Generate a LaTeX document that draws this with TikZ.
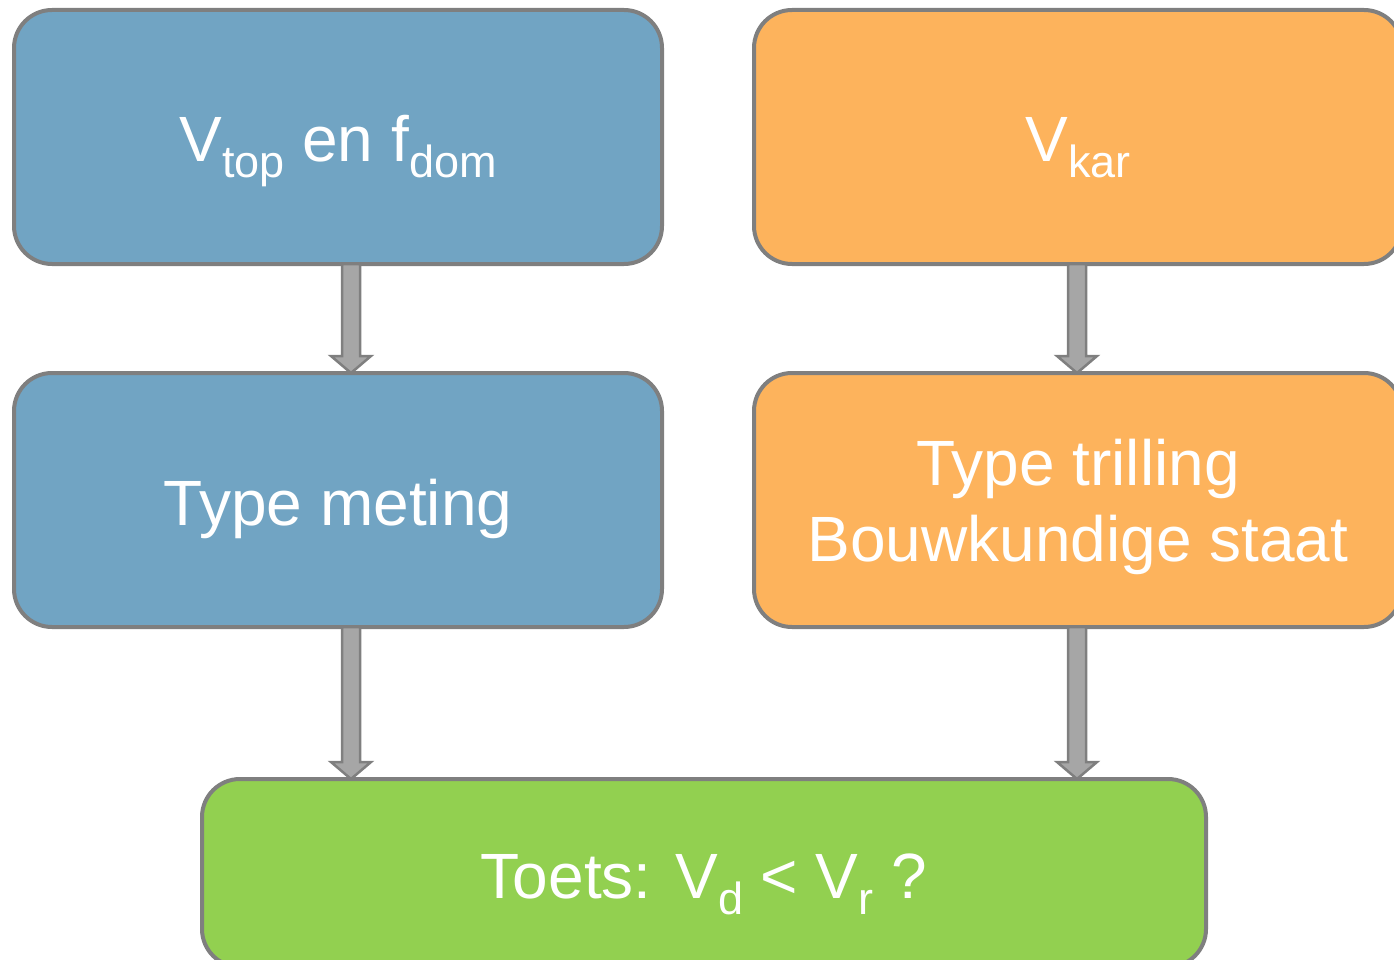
\documentclass[tikz,border=0pt]{standalone}
\usepackage{fontspec}
\setmainfont{Liberation Sans}
\usetikzlibrary{calc}
\definecolor{bblue}{RGB}{113,164,195}
\definecolor{borange}{RGB}{253,179,92}
\definecolor{bgreen}{RGB}{146,208,80}
\definecolor{bgray}{RGB}{127,127,127}
\definecolor{agray}{RGB}{166,166,166}
\newcommand\lo[1]{\raisebox{-16pt}{\fontsize{45}{45}\selectfont #1}}
\newcommand\dn[1]{\raisebox{-7pt}[\height][\depth]{#1}}
% #1: coordinate giving x, #2: from node, #3: to node
\newcommand\blockarr[3]{%
  \path let \p0=(#1), \p1=(#2.south), \p2=(#3.north) in
    [draw=bgray, fill=agray, line width=2.5pt, line join=miter]
    (\x0-9pt,\y1) -- (\x0-9pt,\y2+17pt) -- (\x0-20pt,\y2+17pt) -- (\x0,\y2)
    -- (\x0+20pt,\y2+17pt) -- (\x0+9pt,\y2+17pt) -- (\x0+9pt,\y1) -- cycle;}
\begin{document}
\begin{tikzpicture}[x=1pt,y=1pt,
  box/.style={draw=bgray, line width=4pt, rounded corners=38pt,
    minimum width=648pt, minimum height=254pt, inner sep=0pt, outer sep=0pt,
    text=white, font=\fontsize{64}{76}\selectfont, align=center},
  one/.style={text height=50pt, text depth=0pt}]
\useasboundingbox (0,0) rectangle (1394,-960);
\node[box, one, fill=bblue] (b1) at (338,-137) {V\lo{top} en f\lo{dom}};
\node[box, one, fill=borange] (o1) at (1078,-137) {V\lo{kar}};
\node[box, one, fill=bblue] (b2) at (338,-500) {Type meting};
\node[box, fill=borange] (o2) at (1078,-500) {\dn{Type trilling}\\\dn{Bouwkundige staat}};
\node[box, one, fill=bgreen, minimum width=1004pt, minimum height=188pt] (g) at (704,-873)
  {Toets: V\lo{d} < V\lo{r} ?};
\coordinate (xl) at (351,0);
\coordinate (xr) at (1077,0);
\blockarr{xl}{b1}{b2}
\blockarr{xr}{o1}{o2}
\blockarr{xl}{b2}{g}
\blockarr{xr}{o2}{g}
\end{tikzpicture}
\end{document}
